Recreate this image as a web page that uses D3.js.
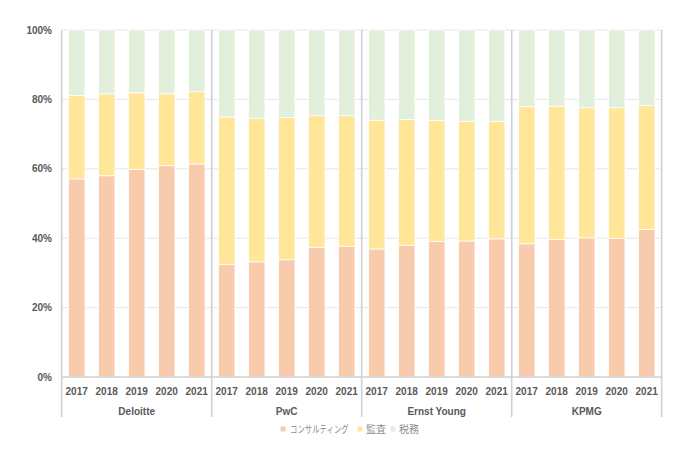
<!DOCTYPE html>
<html><head><meta charset="utf-8">
<script src="https://cdn.jsdelivr.net/npm/d3@7"></script>
<style>body{margin:0;background:#fff;}svg{display:block;}</style>
</head><body><svg id="c" width="694" height="462"></svg>
<script>
const firms = ["Deloitte", "PwC", "Ernst Young", "KPMG"];
const years = ["2017", "2018", "2019", "2020", "2021"];
const seriesNames = ["コンサルティング", "監査", "税務"];
const consulting = [
  [57.1, 58.0, 59.8, 60.9, 61.4],
  [32.5, 33.2, 33.8, 37.4, 37.7],
  [36.9, 38.0, 39.1, 39.2, 39.8],
  [38.4, 39.6, 40.1, 39.9, 42.5]
];
const audit = [
  [24.0, 23.6, 22.1, 20.7, 20.8],
  [42.4, 41.4, 41.0, 37.9, 37.6],
  [37.1, 36.2, 34.8, 34.5, 33.9],
  [39.5, 38.5, 37.5, 37.7, 35.7]
];
const tax = [
  [18.9, 18.4, 18.1, 18.4, 17.8],
  [25.1, 25.4, 25.2, 24.7, 24.7],
  [26.0, 25.8, 26.1, 26.3, 26.3],
  [22.1, 21.9, 22.4, 22.4, 21.8]
];
const yTicks = [0, 0.2, 0.4, 0.6, 0.8, 1.0];
const colors = ["#f8cbad", "#ffe699", "#e2efda"];

(function () {
const rows = [];
firms.forEach((f, i) => years.forEach((yr, j) => {
  const c = consulting[i][j], a = audit[i][j], t = tax[i][j], s = c + a + t;
  rows.push({firm: f, year: yr, s0: c / s, s1: a / s, s2: t / s});
}));

const svg = d3.select("#c");
const mLeft = 61.7, mRight = 661.7, mTop = 30, mBottom = 377, axisBottom = 417;
const x0 = d3.scaleBand().domain(firms).range([mLeft, mRight]);
const x1 = d3.scaleBand().domain(years).range([0, x0.bandwidth()]).paddingInner(0.45).paddingOuter(0.225);
const y = d3.scaleLinear().domain([0, 1]).range([mBottom, mTop]);

// gridlines
svg.append("g").selectAll("line").data(yTicks.filter(d => d > 0)).join("line")
  .attr("x1", mLeft).attr("x2", mRight).attr("y1", d => y(d)).attr("y2", d => y(d))
  .attr("stroke", "#e6e6e6").attr("stroke-width", 1);

// stacked bars
const stack = d3.stack().keys(["s0", "s1", "s2"]);
const layers = stack(rows);
svg.append("g").selectAll("g").data(layers).join("g")
  .attr("fill", (d, i) => colors[i])
  .selectAll("rect").data(d => d).join("rect")
  .attr("x", d => x0(d.data.firm) + x1(d.data.year))
  .attr("width", x1.bandwidth())
  .attr("y", d => y(d[1]))
  .attr("height", d => y(d[0]) - y(d[1]))
  .attr("stroke", "#fff").attr("stroke-width", 0.8);

// axis lines
svg.append("line").attr("x1", mLeft).attr("x2", mRight).attr("y1", mBottom).attr("y2", mBottom)
  .attr("stroke", "#d0d0d0").attr("stroke-width", 1.5);
const seps = firms.map(f => x0(f)).concat([mRight]);
svg.append("g").selectAll("line").data(seps).join("line")
  .attr("x1", d => d).attr("x2", d => d).attr("y1", mTop).attr("y2", axisBottom)
  .attr("stroke", "#d0d0d8").attr("stroke-width", 1.6);

// y axis labels
const font = "'Liberation Sans', Arial, sans-serif";
svg.append("g").selectAll("text").data(yTicks).join("text")
  .attr("x", 52).attr("y", d => y(d)).attr("dy", "0.35em")
  .attr("text-anchor", "end").attr("font-family", font).attr("font-weight", "bold")
  .attr("font-size", 10).attr("fill", "#595959")
  .text(d => d3.format(".0%")(d));

// year labels
svg.append("g").selectAll("text").data(rows).join("text")
  .attr("x", d => x0(d.firm) + x1(d.year) + x1.bandwidth() / 2).attr("y", 394.5)
  .attr("text-anchor", "middle").attr("font-family", font).attr("font-weight", "bold")
  .attr("font-size", 10).attr("fill", "#595959").text(d => d.year);

// firm labels
svg.append("g").selectAll("text").data(firms).join("text")
  .attr("x", d => x0(d) + x0.bandwidth() / 2).attr("y", 414.5)
  .attr("text-anchor", "middle").attr("font-family", font).attr("font-weight", "bold")
  .attr("font-size", 10).attr("fill", "#595959").text(d => d);

// legend
const lg = svg.append("g");
const items = [{x: 283, tx: 290, sx: 0.74}, {x: 360, tx: 366, sx: 1}, {x: 393, tx: 399, sx: 1}];
seriesNames.forEach((n, i) => {
  lg.append("rect").attr("x", items[i].x - 2.5).attr("y", 426.5).attr("width", 5).attr("height", 5).attr("fill", colors[i]);
  lg.append("g").attr("transform", `translate(${items[i].tx},429) scale(${items[i].sx},1)`)
    .append("text").attr("x", 0).attr("y", 0).attr("dy", "0.35em")
    .attr("font-family", "'Noto Sans CJK JP', sans-serif").attr("font-size", 10)
    .attr("fill", "#8c8c8c").text(n);
});
})();
</script></body></html>
